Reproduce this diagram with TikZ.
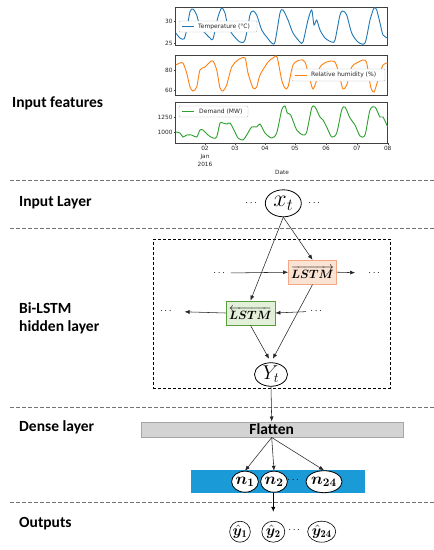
\RequirePackage{fix-cm}
\documentclass[tikz,border=0pt]{standalone}
\usepackage{fontspec}
\usepackage{amsmath,bm}
\usetikzlibrary{arrows.meta,shapes.geometric,calc}
\newfontfamily\labfont{Carlito}
\newfontfamily\pltfont{DejaVu Sans}
\definecolor{tblue}{HTML}{1F77B4}
\definecolor{torange}{HTML}{FF7F0E}
\definecolor{tgreen}{HTML}{2CA02C}
\definecolor{fwfill}{HTML}{FBE3D4}
\definecolor{fwdraw}{HTML}{F4A886}
\definecolor{bwfill}{HTML}{E2F0D9}
\definecolor{bwdraw}{HTML}{5A9E3A}
\definecolor{barblue}{HTML}{1B9AD8}
\definecolor{flatfill}{HTML}{D3D3D3}
\tikzset{
  lab/.style={anchor=west,font=\labfont\bfseries\fontsize{15.5}{18.5}\selectfont,align=left,inner sep=0},
  sep/.style={draw=black!55,dashed,dash pattern=on 4pt off 2pt,line width=0.6pt},
  panel/.style={draw=black!75,line width=0.5pt},
  tickl/.style={font=\pltfont\fontsize{5.8}{6}\selectfont,inner sep=0.8pt,text=black!85},
  curve/.style={line width=0.9pt,smooth,tension=0.45},
  leg/.style={draw=black!25,fill=white,rounded corners=1pt,line width=0.4pt},
  legt/.style={font=\pltfont\fontsize{6}{6}\selectfont,anchor=west,inner sep=0,text=black!85},
  arr/.style={-{Latex[length=5pt,width=4pt]},line width=0.55pt,black!85},
  ell/.style={draw,ellipse,fill=white,inner sep=0,line width=0.8pt},
  lstmf/.style={draw=fwdraw,fill=fwfill,line width=0.8pt,minimum width=48pt,minimum height=24pt,inner sep=0},
  lstmb/.style={draw=bwdraw,fill=bwfill,line width=0.8pt,minimum width=49pt,minimum height=24pt,inner sep=0},
  dots/.style={inner sep=1pt,font=\fontsize{10}{10}\selectfont}
}
\begin{document}
\begin{tikzpicture}[x=1pt,y=-1pt]
\useasboundingbox (0,0) rectangle (434,550);
\fill[white] (0,0) rectangle (434,550);

% ---------- plot panels ----------
\draw[panel] (175.7,7) rectangle (387.7,45);
\draw[panel] (175.7,55) rectangle (387.7,95);
\draw[panel] (175.7,102) rectangle (387.7,143);
% y ticks
\foreach \y/\t in {21/30,43/25,70/80,90/60,117/1250,132/1000}{
  \draw[black!75,line width=0.4pt] (175.7,\y) -- (173.7,\y);
  \node[tickl,anchor=east] at (173.5,\y) {\t};
}
% x ticks
\foreach \x/\t in {205/02,235/03,265/04,295/05,326/06,357/07,387.7/08}{
  \draw[black!75,line width=0.4pt] (\x,143) -- (\x,145);
  \node[tickl,anchor=north] at (\x,145.5) {\t};
}
\node[tickl] at (205,157) {Jan};
\node[tickl] at (205,164) {2016};
\node[tickl] at (282,172.5) {Date};

% curves
\begin{scope}
\clip (175.7,7) rectangle (387.7,45);
\draw[tblue,curve] plot coordinates {(175.7,33) (180,38) (184,39) (186.7,30) (190,11.7) (193,9) (196.7,15) (200,27) (205,33) (210,38) (213,39) (218,17) (221.7,8) (225,13) (228,27) (233,35) (240,42) (245,40) (250,15) (253,11) (256.7,15) (261.7,30) (266.7,37) (271.7,43) (275,42) (280,13) (283,10) (288,20) (293,33) (300,42) (303,42) (308,20) (311.7,10) (314,25) (316.7,20) (320,30) (325,38) (331.7,42) (335,40) (340,15) (343,11) (346.7,15) (351.7,33) (358,42) (365,43) (370,20) (374,8) (376.7,10) (380,23) (383,35) (387.7,38)};
\end{scope}
\begin{scope}
\clip (175.7,55) rectangle (387.7,95);
\draw[torange,curve] plot coordinates {(175.7,65) (180,63) (183,63) (186.7,73) (190,87) (193,91) (196.7,87) (200,70) (205,67) (210,62) (213,61) (216.7,70) (220,88) (223,91) (226.7,85) (231.7,67) (238,60) (245,58) (248,73) (253,88) (256.7,87) (260,75) (268,62) (273,58) (277,57) (281.7,80) (285,88) (288,87) (293,65) (300,60) (305,62) (310,80) (313,89) (316.7,80) (320,67) (326.7,62) (335,62) (340,78) (343,89) (346.7,85) (351.7,67) (356.7,63) (363,60) (366.7,63) (370.7,87) (374,92) (378,80) (383,65) (387.7,63)};
\end{scope}
\begin{scope}
\clip (175.7,102) rectangle (387.7,143);
\draw[tgreen,curve] plot coordinates {(175.7,132) (180,133) (183,137) (186.7,135) (191.7,135) (196.7,137) (200,130) (203,130) (208,135) (213,138) (216.7,137) (220,123) (223,123) (226.7,124) (230,123) (234,130) (238,138) (243,140) (246.7,135) (251.7,127) (256.7,127) (260,124) (265,133) (271.7,138) (276.7,133) (281.7,110) (285,106) (287.3,113) (290.7,115) (296.7,130) (303,135) (306.7,132) (311.7,108) (315,107) (320,117) (323,120) (326.7,127) (331.7,137) (336.7,133) (341.7,110) (345,107) (350,118) (355,125) (360,136) (365,135) (370,110) (375,107) (380,117) (383,117) (387.7,127)};
\end{scope}
% legends
\draw[leg] (179,21) rectangle (257,32);
\draw[tblue,line width=0.9pt] (182,26.5) -- (194,26.5);
\node[legt] at (198,26.5) {Temperature (°C)};
\draw[leg] (292,69) rectangle (385,81);
\draw[torange,line width=0.9pt] (295,75) -- (307,75);
\node[legt] at (311,75) {Relative humidity (\%)};
\draw[leg] (179,106) rectangle (248,117);
\draw[tgreen,line width=0.9pt] (182,111.5) -- (194,111.5);
\node[legt] at (199,111.5) {Demand (MW)};

% ---------- separators ----------
\foreach \y in {180,228,407.5,502}{
  \draw[sep] (10,\y) -- (434,\y);
}

% ---------- left labels ----------
\node[lab] (lf) at (12,103) {Input features};
\node[lab] (li) at (19,203) {Input Layer};
\node[lab] (lb) at (19,318.5) {Bi-LSTM\\[-1pt]hidden layer};
\node[lab] (ld) at (19,427) {Dense layer};
\node[lab] (lo) at (19,524) {Outputs};

% ---------- input layer ----------
\node[ell,minimum width=36pt,minimum height=27pt,font=\fontsize{24}{24}\selectfont] (xt) at (283.3,203.3) {$x_t$};
\node[dots] (xl) at (252,203) {$\cdots$};
\node[dots] (xr) at (315,203) {$\cdots$};

% ---------- hidden layer ----------
\node[draw,densely dashed,line width=0.8pt,minimum width=236.7pt,minimum height=149pt,inner sep=0] (hbox) at (271.65,313.8) {};
\node[lstmf,font=\fontsize{12}{12}\selectfont] (fw) at (312.5,272.2) {$\overrightarrow{\bm{LSTM}}$};
\node[lstmb,font=\fontsize{12}{12}\selectfont] (bw) at (250.5,313) {$\overleftarrow{\bm{LSTM}}$};
\node[dots] (fl) at (220,273) {$\cdots$};
\node[dots] (fr) at (375,273) {$\cdots$};
\node[dots] (bl) at (166.7,311.5) {$\cdots$};
\node[dots] (br) at (317,311.5) {$\cdots$};
\node[ell,minimum width=33pt,minimum height=23pt,font=\fontsize{20}{20}\selectfont] (yt) at (271,374.5) {$Y_t$};

\draw[arr] (xt.south) -- (fw.north);
\draw[arr] (xt.south) -- (bw.north);
\draw[arr,shorten <=3pt] (fl.east) -- (fw.west);
\draw[arr,shorten >=12pt] (fw.east) -- (fr.west);
\draw[arr,shorten <=3pt] (br.west) -- (bw.east);
\draw[arr,shorten >=10pt] (bw.west) -- (bl.east);
\draw[arr,shorten >=4pt] (fw.south) -- (yt.north);
\draw[arr,shorten >=4pt] (bw.south) -- (yt.north);

% ---------- dense layer ----------
\node[draw=black!35,fill=flatfill,minimum width=262pt,minimum height=15.6pt,inner sep=0,font=\labfont\bfseries\fontsize{15.5}{15.5}\selectfont] (flat) at (271.7,429.5) {Flatten};
\draw[arr] (yt.south) -- (flat.north);
\node[fill=barblue,minimum width=174.3pt,minimum height=22.7pt,inner sep=0] (bar) at (277.85,481.35) {};
\node[ell,minimum width=26pt,minimum height=21pt,font=\fontsize{16.5}{16.5}\selectfont] (n1) at (245,481.7) {$\bm{n}_{\bm{1}}$};
\node[ell,minimum width=24pt,minimum height=21pt,font=\fontsize{16.5}{16.5}\selectfont] (n2) at (274,481.7) {$\bm{n}_{\bm{2}}$};
\node[dots,text=black] (nd) at (294,480) {$\cdots$};
\node[ell,minimum width=35pt,minimum height=22pt,font=\fontsize{16.5}{16.5}\selectfont] (n24) at (324,481.7) {$\bm{n}_{\bm{24}}$};
\draw[arr] (flat.south) -- (n1.north);
\draw[arr] (flat.south) -- (n2.north);
\draw[arr] (flat.south) -- (n24.north);

% ---------- outputs ----------
\node[ell,minimum width=20pt,minimum height=21pt,line width=0.6pt,font=\fontsize{15}{15}\selectfont] (y1) at (240,531.7) {$\hat{\bm{y}}_{\mathbf{1}}$};
\node[ell,minimum width=23pt,minimum height=21pt,line width=0.6pt,font=\fontsize{15}{15}\selectfont] (y2) at (273.3,531.7) {$\hat{\bm{y}}_{\mathbf{2}}$};
\node[dots] (yd) at (295,530) {$\cdots$};
\node[ell,minimum width=27pt,minimum height=21pt,line width=0.6pt,font=\fontsize{15}{15}\selectfont] (y24) at (321.7,531.7) {$\hat{\bm{y}}_{\mathbf{24}}$};
\draw[-{Latex[length=5pt,width=4.5pt]},line width=1.1pt] (bar.south -| y2) -- ($(y2.north)+(0,-9)$);
\end{tikzpicture}
\end{document}
